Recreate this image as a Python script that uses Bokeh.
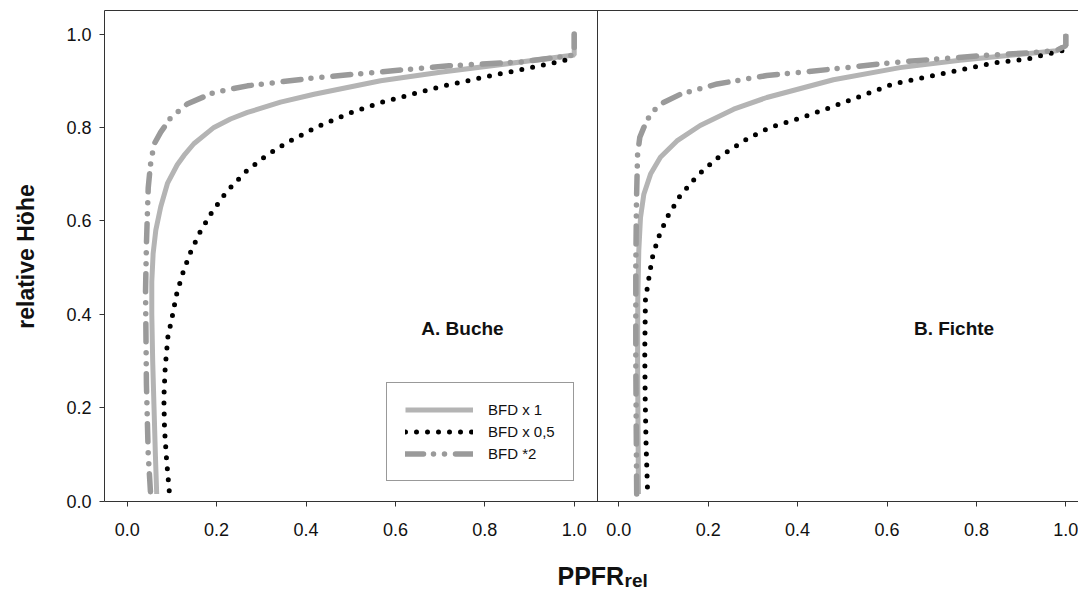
import math
from bokeh.plotting import figure
from bokeh.models import (Range1d, LinearAxis, FixedTicker, CustomJSTickFormatter,
                          PrintfTickFormatter, Label, Legend, LegendItem)
from bokeh.embed import file_html
from bokeh.resources import INLINE
from bokeh.core.properties import value

# ---------------- data ----------------
TICKS = [0.0, 0.2, 0.4, 0.6, 0.8, 1.0]
SERIES_NAMES = ["BFD x 1", "BFD x 0,5", "BFD *2"]
PANEL_TITLES = ["A. Buche", "B. Fichte"]
Y_LABEL = "relative Höhe"
X_LABEL_MAIN = "PPFR"
X_LABEL_SUB = "rel"

# A. Buche
BUCHE_X1_X = [0.066, 0.063, 0.060, 0.057, 0.055, 0.055, 0.058, 0.064, 0.075, 0.090, 0.112, 0.127, 0.149,
              0.194, 0.231, 0.269, 0.343, 0.418, 0.567, 0.70, 0.88, 1.0, 1.0]
BUCHE_X1_Y = [0.015, 0.10, 0.20, 0.30, 0.40, 0.47, 0.53, 0.58, 0.63, 0.68, 0.72, 0.74, 0.765,
              0.80, 0.818, 0.832, 0.854, 0.871, 0.900, 0.918, 0.940, 0.955, 1.0]

BUCHE_X05_X = [0.094, 0.088, 0.0835, 0.082, 0.085, 0.091, 0.101, 0.110, 0.123, 0.140, 0.162, 0.189,
               0.222, 0.265, 0.310, 0.358, 0.425, 0.493, 0.567, 0.70, 0.80, 0.888, 0.981, 1.0]
BUCHE_X05_Y = [0.022, 0.089, 0.154, 0.221, 0.286, 0.351, 0.396, 0.441, 0.484, 0.529, 0.574, 0.618,
               0.662, 0.705, 0.739, 0.768, 0.801, 0.829, 0.853, 0.887, 0.908, 0.925, 0.944, 0.953]

BUCHE_X2_X = [0.052, 0.047, 0.043, 0.041, 0.043, 0.045, 0.047, 0.052, 0.060, 0.075, 0.097, 0.134,
              0.194, 0.269, 0.418, 0.567, 0.72, 0.88, 1.0, 1.0]
BUCHE_X2_Y = [0.02, 0.10, 0.25, 0.45, 0.55, 0.61, 0.67, 0.72, 0.764, 0.79, 0.82, 0.85,
              0.875, 0.889, 0.906, 0.919, 0.932, 0.940, 0.955, 1.0]

# B. Fichte
FICHTE_X1_X = [0.044, 0.043, 0.042, 0.0424, 0.0447, 0.0485, 0.056, 0.071, 0.093, 0.130, 0.182,
               0.257, 0.331, 0.480, 0.629, 0.763, 0.979, 1.0, 1.0]
FICHTE_X1_Y = [0.015, 0.15, 0.30, 0.429, 0.536, 0.607, 0.657, 0.700, 0.736, 0.771, 0.804,
               0.839, 0.864, 0.902, 0.928, 0.944, 0.964, 0.975, 1.0]

FICHTE_X05_X = [0.064, 0.061, 0.059, 0.058, 0.0596, 0.067, 0.0746, 0.088, 0.108, 0.136, 0.175, 0.220,
                0.290, 0.339, 0.406, 0.477, 0.544, 0.614, 0.774, 0.845, 0.912, 0.960, 0.995]
FICHTE_X05_Y = [0.03, 0.12, 0.22, 0.32, 0.432, 0.476, 0.520, 0.563, 0.607, 0.652, 0.696, 0.734,
                0.777, 0.800, 0.820, 0.844, 0.868, 0.893, 0.925, 0.939, 0.946, 0.957, 0.965]

FICHTE_X2_X = [0.040, 0.039, 0.038, 0.038, 0.0395, 0.042, 0.047, 0.056, 0.071, 0.093, 0.138, 0.220,
               0.331, 0.480, 0.614, 0.815, 0.926, 0.98, 1.0, 1.0]
FICHTE_X2_Y = [0.015, 0.15, 0.30, 0.50, 0.643, 0.743, 0.779, 0.800, 0.829, 0.850, 0.871, 0.893,
               0.911, 0.925, 0.939, 0.954, 0.960, 0.965, 0.975, 1.0]

# ---------------- layout / style ----------------
FONT = "Liberation Sans"
W, H = 1078, 590
PX = 447.0            # pixels per x unit
PY = 467.0            # pixels per y unit
LEFT_PX = 104         # panel A left edge, from canvas left
ZERO_PX = 500.5       # y = 0, from canvas top
X_LO = -0.0508        # x value at panel A's left edge
X_START = X_LO - LEFT_PX / PX
X_END = X_LO + (W - LEFT_PX) / PX
Y_START = -(H - ZERO_PX) / PY
Y_END = ZERO_PX / PY
TOP_Y = 1.05
OFFSET = 1.0998       # where panel B's 0 sits in panel A's x units
PANEL_END = 1.051     # border between the panels

def fx(cx):  # canvas px -> x data
    return X_START + cx / PX

def fy(cy):  # canvas px (from top) -> y data
    return (ZERO_PX - cy) / PY

AXIS_COLOR = "#333333"
TEXT_COLOR = "#111111"
C_SOLID = "#b4b4b4"
C_DASHDOT = "#9a9a9a"
C_DOT = "#000000"
DASHDOT = "18 10 0 11 0 11"
DOTTED = "0 11"

p = figure(width=W, height=H, output_backend="svg", toolbar_location=None,
           x_range=Range1d(X_START, X_END), y_range=Range1d(Y_START, Y_END),
           x_axis_location=None, y_axis_location=None,
           min_border=0, min_border_left=0, min_border_right=0, min_border_top=0, min_border_bottom=0)
p.extra_x_ranges = {"right": Range1d(X_START - OFFSET, X_END - OFFSET)}
p.xgrid.visible = False
p.ygrid.visible = False
p.outline_line_color = None
p.background_fill_color = "white"
p.border_fill_color = "white"

def style_axis(ax):
    ax.axis_line_color = AXIS_COLOR
    ax.axis_line_width = 1
    ax.major_tick_line_color = AXIS_COLOR
    ax.major_tick_out = 5
    ax.major_tick_in = 0
    ax.minor_tick_line_color = None
    ax.major_label_text_font = FONT
    ax.major_label_text_font_size = "18px"
    ax.major_label_text_color = TEXT_COLOR

def frame_line(**kw):
    return LinearAxis(ticker=FixedTicker(ticks=[]), axis_line_color=AXIS_COLOR,
                      major_tick_line_color=None, minor_tick_line_color=None,
                      major_label_text_font_size="0px", **kw)

# bottom axis (both panels)
xa = LinearAxis(fixed_location=0, bounds=(X_LO, X_END))
style_axis(xa)
xa.ticker = FixedTicker(ticks=TICKS + [t + OFFSET for t in TICKS])
xa.formatter = CustomJSTickFormatter(args=dict(off=OFFSET, edge=PANEL_END),
                                     code="const v = tick > edge ? tick - off : tick; return v.toFixed(1);")
xa.major_label_standoff = 17
p.add_layout(xa, "below")

# left axis
ya = LinearAxis(fixed_location=X_LO, bounds=(0, TOP_Y))
style_axis(ya)
ya.ticker = FixedTicker(ticks=TICKS)
ya.formatter = PrintfTickFormatter(format="%.1f")
ya.major_label_standoff = 8
p.add_layout(ya, "left")

# divider and top border
p.add_layout(frame_line(fixed_location=PANEL_END, bounds=(0, TOP_Y)), "left")
p.add_layout(frame_line(fixed_location=TOP_Y, bounds=(X_LO, X_END)), "above")

# panel A
ra1 = p.line(BUCHE_X1_X, BUCHE_X1_Y, line_color=C_SOLID, line_width=5)
ra2 = p.line(BUCHE_X05_X, BUCHE_X05_Y, line_color=C_DOT, line_width=5, line_dash=DOTTED, line_cap="round")
ra3 = p.line(BUCHE_X2_X, BUCHE_X2_Y, line_color=C_DASHDOT, line_width=5.5, line_dash=DASHDOT, line_cap="round")
# panel B
p.line(FICHTE_X1_X, FICHTE_X1_Y, line_color=C_SOLID, line_width=5, x_range_name="right")
p.line(FICHTE_X05_X, FICHTE_X05_Y, line_color=C_DOT, line_width=5, line_dash=DOTTED, line_cap="round",
       x_range_name="right")
p.line(FICHTE_X2_X, FICHTE_X2_Y, line_color=C_DASHDOT, line_width=5.5, line_dash=DASHDOT, line_cap="round",
       x_range_name="right")

# panel titles
TITLE_X, TITLE_Y = 0.75, 0.37
p.text(x=[TITLE_X], y=[TITLE_Y], text=[PANEL_TITLES[0]], text_font=value(FONT), text_font_style="bold",
       text_font_size="19px", text_align="center", text_baseline="middle", text_color=TEXT_COLOR)
p.text(x=[TITLE_X], y=[TITLE_Y], text=[PANEL_TITLES[1]], text_font=value(FONT), text_font_style="bold",
       text_font_size="19px", text_align="center", text_baseline="middle", text_color=TEXT_COLOR,
       x_range_name="right")

# legend
legend = Legend(items=[LegendItem(label=SERIES_NAMES[0], renderers=[ra1]),
                       LegendItem(label=SERIES_NAMES[1], renderers=[ra2]),
                       LegendItem(label=SERIES_NAMES[2], renderers=[ra3])],
                location=(386, 109), orientation="vertical")
legend.border_line_color = AXIS_COLOR
legend.border_line_width = 1
legend.background_fill_color = "white"
legend.background_fill_alpha = 1
legend.label_text_font = FONT
legend.label_text_font_size = "15px"
legend.label_text_color = TEXT_COLOR
legend.glyph_width = 68
legend.glyph_height = 15
legend.label_height = 15
legend.label_standoff = 15
legend.padding = 18
legend.spacing = 5
legend.margin = 0
p.add_layout(legend)

# axis titles
p.add_layout(Label(x=fx(25), y=fy(256), text=Y_LABEL, angle=math.pi / 2, text_font=FONT,
                   text_font_style="bold", text_font_size="23px", text_color=TEXT_COLOR,
                   text_align="center", text_baseline="middle"))
p.add_layout(Label(x=fx(557), y=fy(575), text=X_LABEL_MAIN, text_font=FONT, text_font_style="bold",
                   text_font_size="25px", text_color=TEXT_COLOR, text_baseline="alphabetic"))
p.add_layout(Label(x=fx(557 + 67), y=fy(580), text=X_LABEL_SUB, text_font=FONT,
                   text_font_style="bold", text_font_size="19px", text_color=TEXT_COLOR,
                   text_baseline="alphabetic"))

open("out.html", "w").write(file_html(p, INLINE))
